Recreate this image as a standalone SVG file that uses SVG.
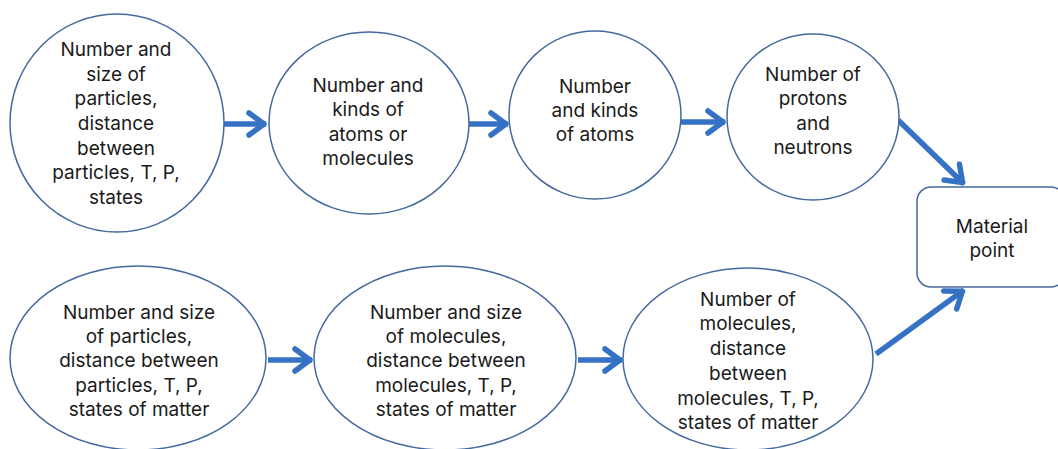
<svg xmlns="http://www.w3.org/2000/svg" width="1058" height="449" viewBox="0 0 1058 449">
<defs>
<marker id="ah" markerUnits="userSpaceOnUse" markerWidth="40" markerHeight="40" viewBox="-25 -20 40 40" refX="0" refY="0" orient="auto" overflow="visible">
<path d="M-17,-11 L-2,0 L-17,11" fill="none" stroke="#3672c4" stroke-width="5.5" stroke-linecap="round" stroke-linejoin="round"/>
</marker>
</defs>
<style>
.n{fill:#ffffff;stroke:#44699e;stroke-width:1.5}
.t{font-family:Inter,"Noto Sans","Liberation Sans",sans-serif;font-size:19px;fill:#1a1a1a;text-anchor:middle}
.c{fill:none;stroke:#3672c4;stroke-width:5.5;marker-end:url(#ah)}
</style>
<rect width="1058" height="449" fill="#ffffff"/>
<g id="connectors">
<line class="c" x1="224" y1="124" x2="266" y2="124"/>
<line class="c" x1="469" y1="124" x2="508" y2="124"/>
<line class="c" x1="681" y1="122" x2="725" y2="122"/>
<line class="c" x1="898" y1="120" x2="964" y2="184"/>
<line class="c" x1="268" y1="360" x2="312" y2="360"/>
<line class="c" x1="578" y1="360" x2="622" y2="360"/>
<line class="c" x1="876" y1="354" x2="964" y2="290"/>
</g>
<g id="n1">
<ellipse class="n" cx="117" cy="123" rx="107" ry="109"/>
<text class="t" x="116" y="56">Number and</text>
<text class="t" x="116" y="81">size of</text>
<text class="t" x="116" y="105">particles,</text>
<text class="t" x="116" y="130">distance</text>
<text class="t" x="116" y="155">between</text>
<text class="t" x="116" y="179">particles, T, P,</text>
<text class="t" x="116" y="204">states</text>
</g>
<g id="n2">
<ellipse class="n" cx="369" cy="123" rx="100" ry="91"/>
<text class="t" x="368" y="92">Number and</text>
<text class="t" x="368" y="116">kinds of</text>
<text class="t" x="368" y="141">atoms or</text>
<text class="t" x="368" y="165">molecules</text>
</g>
<g id="n3">
<ellipse class="n" cx="595" cy="115" rx="86" ry="84"/>
<text class="t" x="595" y="93">Number</text>
<text class="t" x="595" y="117">and kinds</text>
<text class="t" x="595" y="141">of atoms</text>
</g>
<g id="n4">
<ellipse class="n" cx="813" cy="117" rx="86" ry="83"/>
<text class="t" x="813" y="81">Number of</text>
<text class="t" x="813" y="105">protons</text>
<text class="t" x="813" y="130">and</text>
<text class="t" x="813" y="154">neutrons</text>
</g>
<g id="n5">
<rect class="n" x="917" y="187" width="148" height="100" rx="14"/>
<text class="t" x="992" y="233">Material</text>
<text class="t" x="992" y="257">point</text>
</g>
<g id="n6">
<ellipse class="n" cx="138" cy="358" rx="128" ry="92"/>
<text class="t" x="139" y="319">Number and size</text>
<text class="t" x="139" y="343">of particles,</text>
<text class="t" x="139" y="367">distance between</text>
<text class="t" x="139" y="392">particles, T, P,</text>
<text class="t" x="139" y="416">states of matter</text>
</g>
<g id="n7">
<ellipse class="n" cx="445" cy="358" rx="131" ry="92"/>
<text class="t" x="446" y="319">Number and size</text>
<text class="t" x="446" y="343">of molecules,</text>
<text class="t" x="446" y="367">distance between</text>
<text class="t" x="446" y="392">molecules, T, P,</text>
<text class="t" x="446" y="416">states of matter</text>
</g>
<g id="n8">
<ellipse class="n" cx="748" cy="359" rx="125" ry="91"/>
<text class="t" x="748" y="306">Number of</text>
<text class="t" x="748" y="330">molecules,</text>
<text class="t" x="748" y="355">distance</text>
<text class="t" x="748" y="380">between</text>
<text class="t" x="748" y="405">molecules, T, P,</text>
<text class="t" x="748" y="429">states of matter</text>
</g>
</svg>
